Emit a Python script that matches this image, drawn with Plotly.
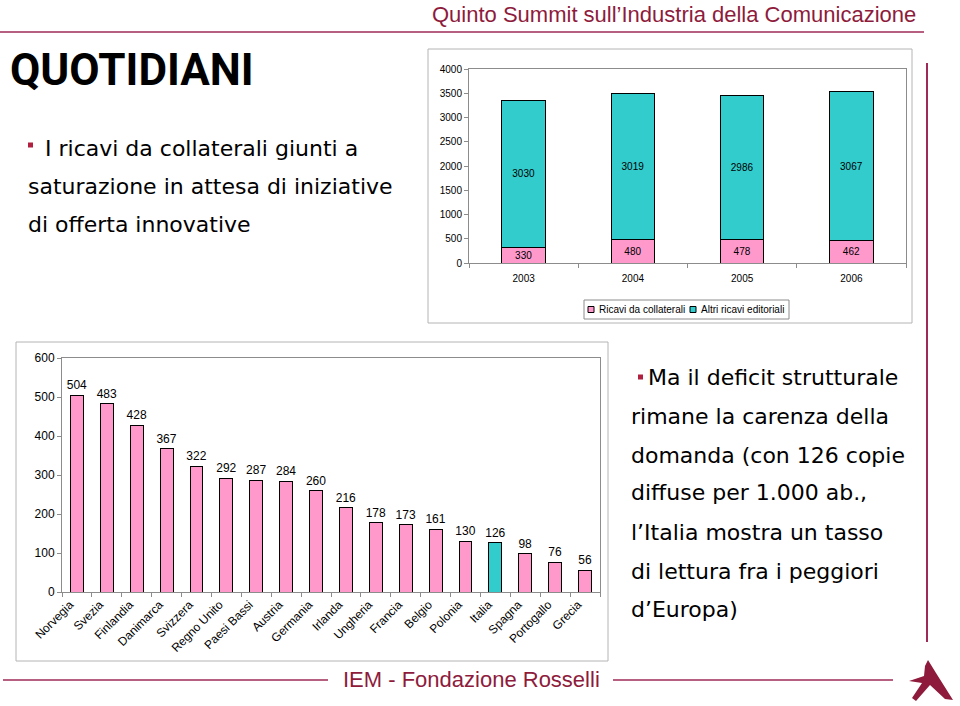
import plotly.graph_objects as go

# ---------------- data ----------------
years = ["2003", "2004", "2005", "2006"]
ricavi_collaterali = [330, 480, 478, 462]
altri_ricavi = [3030, 3019, 2986, 3067]

countries = ["Norvegia", "Svezia", "Finlandia", "Danimarca", "Svizzera", "Regno Unito",
             "Paesi Bassi", "Austria", "Germania", "Irlanda", "Ungheria", "Francia",
             "Belgio", "Polonia", "Italia", "Spagna", "Portogallo", "Grecia"]
copie = [504, 483, 428, 367, 322, 292, 287, 284, 260, 216, 178, 173, 161, 130, 126, 98, 76, 56]
highlight = "Italia"

top_yticks = [0, 500, 1000, 1500, 2000, 2500, 3000, 3500, 4000]
bottom_yticks = [0, 100, 200, 300, 400, 500, 600]

header = "Quinto Summit sull\u2019Industria della Comunicazione"
title = "QUOTIDIANI"
left_lines = ["I ricavi da collaterali giunti a",
              "saturazione in attesa di iniziative",
              "di offerta innovative"]
right_lines = ["Ma il deficit strutturale",
               "rimane la carenza della",
               "domanda (con 126 copie",
               "diffuse per 1.000 ab.,",
               "l\u2019Italia mostra un tasso",
               "di lettura fra i peggiori",
               "d\u2019Europa)"]
footer = "IEM - Fondazione Rosselli"
legend_names = ["Ricavi da collaterali", "Altri ricavi editoriali"]

# ---------------- style ----------------
W, H = 960, 706
PINK = "#FF99CC"
TEAL = "#33CCCC"
DARKRED = "#8E1B3C"
LINERED = "#9E2A56"
GRID = "#8C8C8C"
BOX = "#B4B4B4"
ARIAL = "Liberation Sans, Arial, sans-serif"
BODY = "DejaVu Sans, sans-serif"


def X(px):
    return px / W


def Y(py):
    return 1 - py / H


fig = go.Figure()

# top stacked chart
fig.add_bar(x=years, y=ricavi_collaterali, name=legend_names[0], xaxis="x", yaxis="y",
            width=0.4, marker=dict(color=PINK, line=dict(color="black", width=1)),
            text=[str(v) for v in ricavi_collaterali], textposition="inside",
            insidetextanchor="middle", textangle=0, constraintext="none",
            textfont=dict(family=ARIAL, size=10, color="black"), showlegend=False,
            hoverinfo="skip")
fig.add_bar(x=years, y=altri_ricavi, name=legend_names[1], xaxis="x", yaxis="y",
            width=0.4, marker=dict(color=TEAL, line=dict(color="black", width=1)),
            text=[str(v) for v in altri_ricavi], textposition="inside",
            insidetextanchor="middle", textangle=0, constraintext="none",
            textfont=dict(family=ARIAL, size=10, color="black"), showlegend=False,
            hoverinfo="skip")

# bottom chart
bar_colors = [TEAL if c == highlight else PINK for c in countries]
fig.add_bar(x=countries, y=copie, xaxis="x2", yaxis="y2", width=0.43,
            marker=dict(color=bar_colors, line=dict(color="black", width=1)),
            text=[str(v) for v in copie], textposition="outside", textangle=0,
            cliponaxis=False, constraintext="none",
            textfont=dict(family=ARIAL, size=12, color="black"), showlegend=False,
            hoverinfo="skip")

axis_common = dict(showline=True, linecolor=GRID, linewidth=1, mirror=True,
                   ticks="outside", ticklen=4, tickcolor=GRID, showgrid=False,
                   zeroline=False, fixedrange=True, automargin=False)

fig.update_layout(
    width=W, height=H, margin=dict(l=0, r=0, t=0, b=0, pad=0, autoexpand=False),
    autosize=False,
    paper_bgcolor="white", plot_bgcolor="white", barmode="stack",
    showlegend=False,
    xaxis=dict(domain=[X(469), X(906)], anchor="y", range=[-0.5, 3.5],
               tickson="boundaries", ticklabelstandoff=6,
               tickfont=dict(family=ARIAL, size=10, color="black"), **axis_common),
    yaxis=dict(domain=[Y(263), Y(69)], anchor="x", range=[0, 4000],
               tickvals=top_yticks, tickfont=dict(family=ARIAL, size=10, color="black"),
               **axis_common),
    xaxis2=dict(domain=[X(62), X(600)], anchor="y2", range=[-0.5, len(countries) - 0.5],
                tickson="boundaries", tickangle=-45, ticklabelshift=-7,
                tickfont=dict(family=ARIAL, size=12, color="black"), **axis_common),
    yaxis2=dict(domain=[Y(592), Y(358)], anchor="x2", range=[0, 600],
                tickvals=bottom_yticks, tickfont=dict(family=ARIAL, size=12, color="black"),
                **axis_common),
)

shapes = []
# chart outer boxes
shapes.append(dict(type="rect", xref="paper", yref="paper", x0=X(428), x1=X(912),
                   y0=Y(323), y1=Y(49), line=dict(color=BOX, width=1)))
shapes.append(dict(type="rect", xref="paper", yref="paper", x0=X(16), x1=X(608),
                   y0=Y(661), y1=Y(342), line=dict(color=BOX, width=1)))
# legend box
shapes.append(dict(type="rect", xref="paper", yref="paper", x0=X(584), x1=X(789),
                   y0=Y(319), y1=Y(300), line=dict(color=GRID, width=1)))
shapes.append(dict(type="rect", xref="paper", yref="paper", x0=X(588), x1=X(594),
                   y0=Y(312.5), y1=Y(306.5), fillcolor=PINK, line=dict(color="black", width=1)))
shapes.append(dict(type="rect", xref="paper", yref="paper", x0=X(690), x1=X(696),
                   y0=Y(312.5), y1=Y(306.5), fillcolor=TEAL, line=dict(color="black", width=1)))
# header line, footer lines, vertical line
shapes.append(dict(type="line", xref="paper", yref="paper", x0=X(0), x1=X(924),
                   y0=Y(32), y1=Y(32), line=dict(color=LINERED, width=1.5)))
shapes.append(dict(type="line", xref="paper", yref="paper", x0=X(3), x1=X(328),
                   y0=Y(680), y1=Y(680), line=dict(color=LINERED, width=1.5)))
shapes.append(dict(type="line", xref="paper", yref="paper", x0=X(613), x1=X(893),
                   y0=Y(680), y1=Y(680), line=dict(color=LINERED, width=1.5)))
shapes.append(dict(type="line", xref="paper", yref="paper", x0=X(927), x1=X(927),
                   y0=Y(63), y1=Y(642), line=dict(color=LINERED, width=2)))
# bullets
for bx, by in [(28, 145), (638, 377)]:
    shapes.append(dict(type="rect", xref="paper", yref="paper", x0=X(bx), x1=X(bx + 5),
                       y0=Y(by + 2.5), y1=Y(by - 2.5), fillcolor="#B0203F",
                       line=dict(width=0)))
# logo (decorative)
logo_pts = [(928, 660), (936, 673), (953, 700), (945, 699), (930, 685), (916, 701),
            (912, 698), (922, 683), (909, 681), (924, 676), (925, 666)]
path = "M " + " L ".join(f"{X(px):.5f},{Y(py):.5f}" for px, py in logo_pts) + " Z"
shapes.append(dict(type="path", xref="paper", yref="paper", path=path,
                   fillcolor="#8E1B3C", line=dict(width=0)))

annotations = []
annotations.append(dict(text=header, x=X(918), y=Y(14), xref="paper", yref="paper",
                        xanchor="right", yanchor="middle", showarrow=False,
                        font=dict(family=ARIAL, size=22, color=DARKRED)))
annotations.append(dict(text=footer, x=X(341), y=Y(679), xref="paper", yref="paper",
                        xanchor="left", yanchor="middle", showarrow=False,
                        font=dict(family=ARIAL, size=22, color=DARKRED)))
annotations.append(dict(text="<b>" + title + "</b>", x=X(8), y=Y(70), xref="paper",
                        yref="paper", xanchor="left", yanchor="middle", showarrow=False,
                        font=dict(family="Roboto, sans-serif", size=44, color="black")))
left_x = [43, 26, 26]
left_y = [148, 186, 224]
for t, lx, ly in zip(left_lines, left_x, left_y):
    annotations.append(dict(text=t, x=X(lx), y=Y(ly), xref="paper", yref="paper",
                            xanchor="left", yanchor="middle", showarrow=False,
                            font=dict(family=BODY, size=22, color="black")))
right_x = [646, 629, 629, 629, 629, 629, 629]
right_y = [377, 416, 455, 493, 532, 571, 609]
for t, rx, ry in zip(right_lines, right_x, right_y):
    annotations.append(dict(text=t, x=X(rx), y=Y(ry), xref="paper", yref="paper",
                            xanchor="left", yanchor="middle", showarrow=False,
                            font=dict(family=BODY, size=22, color="black")))
for name, lx in zip(legend_names, [597, 699]):
    annotations.append(dict(text=name, x=X(lx), y=Y(309.5), xref="paper", yref="paper",
                            xanchor="left", yanchor="middle", showarrow=False,
                            font=dict(family=ARIAL, size=10, color="black")))

fig.update_layout(shapes=shapes, annotations=annotations)
fig.write_html("out.html", config={"displayModeBar": False, "staticPlot": True},
               post_script="document.body.style.margin='0px';"
                           "document.body.style.overflow='hidden';")
